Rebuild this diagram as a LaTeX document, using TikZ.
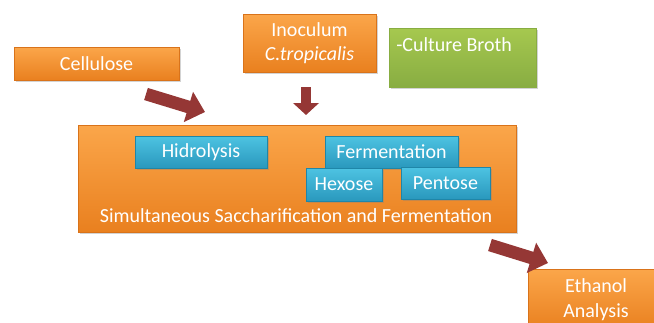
\documentclass[tikz,border=0pt]{standalone}
\usepackage{fontspec}
\setmainfont{Carlito}
\usetikzlibrary{arrows.meta,shadows,positioning}
\definecolor{orange-top}{HTML}{FBA64A}
\definecolor{orange-bottom}{HTML}{E9801F}
\definecolor{orange-edge}{HTML}{D9731A}
\definecolor{blue-top}{HTML}{4DC3E2}
\definecolor{blue-bottom}{HTML}{2A98BD}
\definecolor{blue-edge}{HTML}{1F86A8}
\definecolor{green-top}{HTML}{A6C84F}
\definecolor{green-bottom}{HTML}{88AD42}
\definecolor{arrow-red}{HTML}{953735}
\tikzset{
    flat-box/.style = {rectangle, inner sep=0pt, text=white, font=\fontsize{15}{18.5}\selectfont, align=center,
        drop shadow={shadow xshift=1.2pt, shadow yshift=-1.5pt, opacity=0.35}},
    orange-box/.style = {flat-box, draw=orange-edge, top color=orange-top, bottom color=orange-bottom},
    blue-box/.style = {flat-box, draw=blue-edge, top color=blue-top, bottom color=blue-bottom},
    green-box/.style = {flat-box, draw=green-bottom, top color=green-top, bottom color=green-bottom},
    box-text/.style = {text=white, font=\fontsize{15}{18.5}\selectfont, inner sep=0pt},
    big-arrow/.style = {draw=arrow-red, line width=9.5pt, -{Triangle[length=13pt, width=23pt]}},
    small-arrow/.style = {draw=arrow-red, line width=8pt, -{Triangle[length=9pt, width=19pt]}},
}

\begin{document}
\begin{tikzpicture}[x=0.75pt, y=-0.75pt]
\useasboundingbox (0,0) rectangle (654,322);

% inputs
\node [orange-box, minimum width=123.75pt, minimum height=24.75pt] (cellulose) at (96.5,63.5) {Cellulose};
\node [orange-box, minimum width=99.75pt, minimum height=43.5pt] (inoculum) at (309.5,43) {Inoculum\\\textit{C.tropicalis}};
\node [green-box, minimum width=110.25pt, minimum height=44.25pt] (broth) at (462.5,57.5) {};
\node [box-text, anchor=west] (broth-text) at (396,45) {-Culture Broth};

% SSF
\node [orange-box, minimum width=328.5pt, minimum height=80.25pt] (ssf) at (297,178.5) {};
\node [blue-box, minimum width=99pt, minimum height=24pt] (hidrolysis) at (201,152) {Hidrolysis};
\node [blue-box, minimum width=99.75pt, minimum height=24pt] (fermentation) at (391.5,152) {Fermentation};
\node [blue-box, minimum width=57pt, minimum height=24.75pt] (hexose) at (344,184.5) {Hexose};
\node [blue-box, minimum width=66.75pt, minimum height=24pt] (pentose) at (445.5,183) {Pentose};
\node [box-text] (ssf-text) at (296,216) {Simultaneous Saccharification and Fermentation};

% output
\node [orange-box, minimum width=102pt, minimum height=45.75pt] (ethanol) at (596,299.5) {Ethanol\\Analysis};

% arrows
\coordinate (cellulose-out) at (146,94);
\coordinate (ssf-in) at (205,112);
\coordinate (inoculum-out) at (306,87);
\coordinate (ssf-top) at (306,115);
\coordinate (ssf-out) at (490,245);
\coordinate (ethanol-in) at (548,263);
\draw [big-arrow] (cellulose-out) -- (ssf-in);
\draw [small-arrow] (inoculum-out) -- (ssf-top);
\draw [big-arrow] (ssf-out) -- (ethanol-in);
\end{tikzpicture}
\end{document}
